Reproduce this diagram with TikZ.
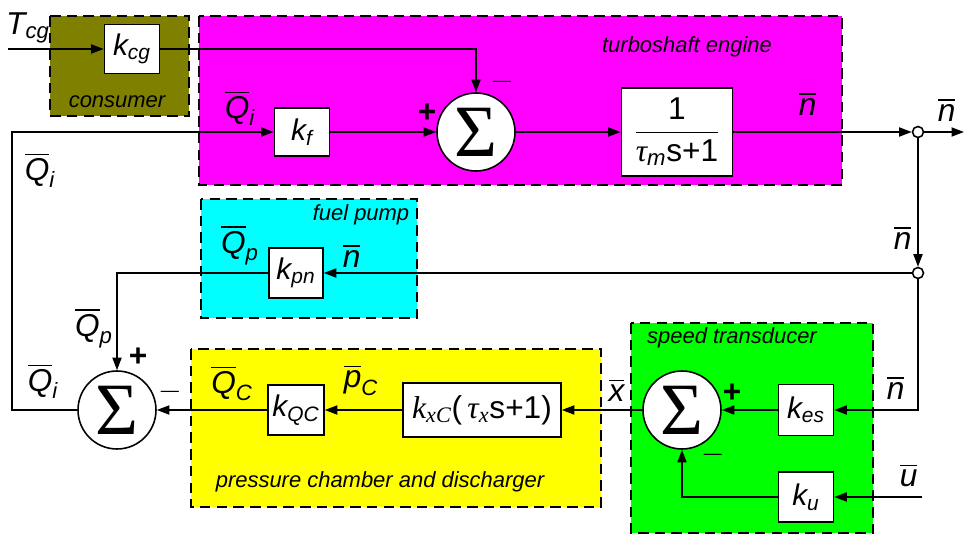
\documentclass[tikz,border=0pt]{standalone}
\usepackage{amsmath}
\usepackage{fontspec}
\setmainfont{Liberation Sans}
\newfontfamily\serifgreek{Liberation Serif}
\usetikzlibrary{positioning,arrows.meta}
\usepackage{xcolor}
\definecolor{consumercol}{RGB}{128,128,0}
\definecolor{enginecol}{RGB}{255,0,255}
\definecolor{pumpcol}{RGB}{0,255,255}
\definecolor{presscol}{RGB}{255,255,0}
\definecolor{speedcol}{RGB}{0,255,0}

\newcommand{\barsig}[2]{$\overline{\textit{#1}}_{\textit{#2}}$}
\newcommand{\kgain}[2]{$\textit{#1}_{\textit{#2}}$}
\newcommand{\tms}[1]{\text{\serifgreek\itshape #1}}

\begin{document}
\begin{tikzpicture}[
  x=0.02cm, y=-0.02cm,
  >={Triangle[length=2.5mm,width=1.8mm]},
  wire/.style={->,line width=1pt},
  block/.style={draw,fill=white,line width=0.9pt,inner sep=1pt,font=\fontsize{17}{19}\selectfont},
  summer/.style={draw,circle,fill=white,line width=0.9pt,minimum size=1.56cm,inner sep=0pt,
                 font=\serifgreek\fontsize{42}{42}\selectfont},
  junct/.style={draw,circle,fill=white,line width=0.9pt,minimum size=2.2mm,inner sep=0pt},
  group/.style={draw,dash pattern=on 6pt off 3.5pt,line width=1.1pt},
  sig/.style={font=\fontsize{18}{20}\selectfont,inner sep=0pt},
  sign/.style={font=\fontsize{18}{18}\selectfont\bfseries,inner sep=0pt},
  grouplabel/.style={font=\itshape\fontsize{12.5}{14}\selectfont,inner sep=0pt},
]
\useasboundingbox (0,0) rectangle (965,534);
% subsystem frames
\draw[group,fill=consumercol] (50,16) rectangle (189,116);
\draw[group,fill=enginecol]   (199,16) rectangle (842,185);
\draw[group,fill=pumpcol]     (201,199) rectangle (417,318);
\draw[group,fill=presscol]    (191,349) rectangle (601,507);
\draw[group,fill=speedcol]    (631,323) rectangle (873,533);
\node[grouplabel] (lcons)  at (117,102) {consumer};
\node[grouplabel] (leng)   at (687,47)  {turboshaft engine};
\node[grouplabel] (lpump)  at (361,215) {fuel pump};
\node[grouplabel] (lpress) at (380,482) {pressure chamber and discharger};
\node[grouplabel] (lspeed) at (732,338) {speed transducer};
% blocks
\node[block,minimum width=1.1cm,minimum height=0.98cm] (kcg) at (132,49)  {\kgain{k}{cg}};
\node[block,minimum width=1.1cm,minimum height=0.96cm] (kf)  at (302,132) {\kgain{k}{f}};
\node[summer] (sumA) at (476,132) {Σ};
\node[block,minimum width=2.22cm,minimum height=1.76cm,font=\fontsize{18}{20}\selectfont] (tf) at (677,132)
  {$\dfrac{\text{1}}{\tms{τ}_{\textit{m}}\text{s+1}}$};
\node[junct] (jA) at (918,132) {};
\node[junct] (jB) at (918,273) {};
\node[block,minimum width=1.08cm,minimum height=1cm] (kpn) at (296,273) {\kgain{k}{pn}};
\node[summer] (sumC) at (117,410) {Σ};
\node[block,minimum width=1.12cm,minimum height=1cm] (kqc) at (296,410) {\kgain{k}{QC}};
\node[block,minimum width=3.16cm,minimum height=1.08cm,font=\fontsize{18}{20}\selectfont] (kxc) at (482,410)
  {$\tms{k}_{\tms{xC}}$(\,$\tms{τ}_{\tms{x}}$s+1)};
\node[summer] (sumB) at (682,410) {Σ};
\node[block,minimum width=1.1cm,minimum height=1.02cm] (kes) at (806,410) {\kgain{k}{es}};
\node[block,minimum width=1.1cm,minimum height=1cm]    (ku)  at (806,497) {\kgain{k}{u}};
% loose ends
\coordinate (tcgin) at (8,49);
\coordinate (fbtop) at (12,132);
\coordinate (nout)  at (964,132);
\coordinate (uin)   at (922,497);
% connectors
\draw[wire] (tcgin) -- (kcg);
\draw[wire] (kcg.east) -| (sumA.north);
\draw[wire] (sumC.west) -| (fbtop) -- (kf.west);
\draw[wire] (kf) -- (sumA);
\draw[wire] (sumA) -- (tf);
\draw[wire] (tf) -- (jA);
\draw[wire] (jA) -- (nout);
\draw[wire] (jA) -- (jB);
\draw[wire] (jB) -- (kpn);
\draw[wire] (kpn.west) -| (sumC.north);
\draw[wire] (jB.south) |- (kes.east);
\draw[wire] (uin) -- (ku);
\draw[wire] (ku.west) -| (sumB.south);
\draw[wire] (kes) -- (sumB);
\draw[wire] (sumB) -- (kxc);
\draw[wire] (kxc) -- (kqc);
\draw[wire] (kqc) -- (sumC);
% signal labels
\node[sig] (ltcg)  at (28,28)   {\kgain{T}{cg}};
\node[sig] (lqi1)  at (240,108) {\barsig{Q}{i}};
\node[sig] (lqi2)  at (40,170)  {\barsig{Q}{i}};
\node[sig] (lqi3)  at (43,381)  {\barsig{Q}{i}};
\node[sig] (ln1)   at (808,106) {\barsig{n}{}};
\node[sig] (ln2)   at (947,112) {\barsig{n}{}};
\node[sig] (ln3)   at (903,240) {\barsig{n}{}};
\node[sig] (ln4)   at (352,258) {\barsig{n}{}};
\node[sig] (ln5)   at (896,390) {\barsig{n}{}};
\node[sig] (lqp1)  at (240,245) {\barsig{Q}{p}};
\node[sig] (lqp2)  at (94,328)  {\barsig{Q}{p}};
\node[sig] (lqc)   at (232,383) {\barsig{Q}{C}};
\node[sig] (lpc)   at (361,380) {\barsig{p}{C}};
\node[sig] (lx)    at (617,392) {\barsig{x}{}};
\node[sig] (lu)    at (909,477) {\barsig{u}{}};
% signs
\node[sign] (pA) at (427,113) {+};
\node[sign] (mA) at (502,82)  {$-$};
\node[sign] (pC) at (138,357) {+};
\node[sign] (mC) at (170,392) {$-$};
\node[sign] (pB) at (732,393) {+};
\node[sign] (mB) at (713,455) {$-$};
\end{tikzpicture}
\end{document}
